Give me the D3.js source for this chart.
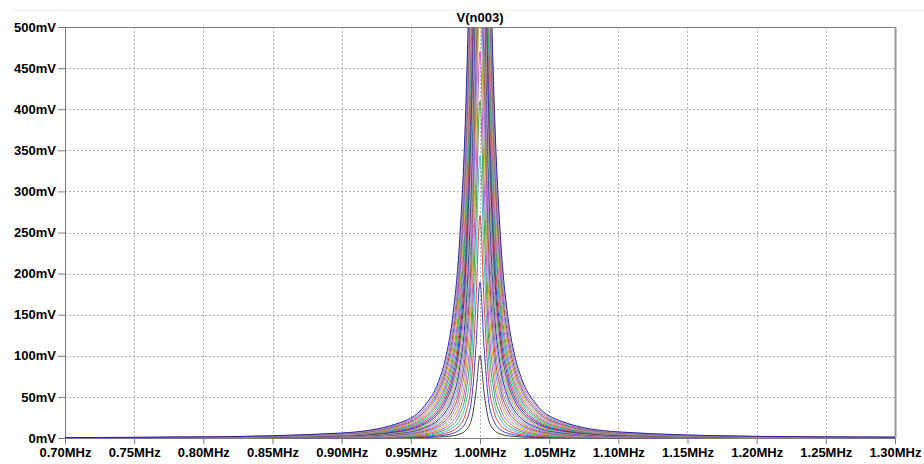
<!DOCTYPE html>
<html>
<head>
<meta charset="utf-8">
<script src="https://cdn.jsdelivr.net/npm/d3@7/dist/d3.min.js"></script>
<style>
body { margin: 0; background: #fff; }
svg { display: block; font-family: "Liberation Sans", Arial, sans-serif; }
.axis text { font-size: 13px; font-weight: bold; fill: #000; }
.axis path, .axis line { stroke: #7a7a7a; }
.grid line { stroke: #b0b0b0; stroke-dasharray: 2,2; }
</style>
</head>
<body>
<svg class="chart"></svg>
<script>
var width = 924;
var height = 464;
var margin = {top: 27, right: 29, bottom: 26, left: 65};
var w = width - margin.left - margin.right;
var h = height - margin.top - margin.bottom; // plot area of the LTspice pane

// frequency points (MHz) shared by every stepped run
var freqs = [0.70, 0.80, 0.90, 0.94, 0.96, 0.97, 0.975, 0.98, 0.985, 0.99, 0.994, 0.997, 1.000,
             1.003, 1.006, 1.01, 1.015, 1.02, 1.025, 1.03, 1.04, 1.06, 1.10, 1.20, 1.30];

// V(n003) in mV for each .step run (peaks above 500mV are clipped)
var steps = [
    [0.0, 0.0, 0.1, 0.3, 0.7, 1.2, 1.7, 2.6, 4.6, 9.8, 23.2, 54.8, 100.3, 55.0, 23.4, 9.9, 4.7, 2.7, 1.8, 1.2, 0.7, 0.3, 0.1, 0.0, 0.0],
    [0.0, 0.0, 0.2, 0.6, 1.4, 2.5, 3.5, 5.5, 9.6, 20.4, 47.7, 109.0, 190.0, 109.2, 48.1, 20.7, 9.9, 5.7, 3.7, 2.6, 1.5, 0.7, 0.3, 0.1, 0.0],
    [0.0, 0.1, 0.3, 0.9, 2.2, 3.9, 5.6, 8.6, 15.1, 31.8, 73.3, 162.0, 270.7, 162.4, 74.0, 32.4, 15.5, 9.0, 5.8, 4.1, 2.3, 1.1, 0.4, 0.1, 0.1],
    [0.0, 0.1, 0.5, 1.3, 3.0, 5.4, 7.8, 12.1, 21.0, 44.0, 99.9, 213.7, 343.7, 214.1, 100.7, 44.8, 21.6, 12.5, 8.2, 5.7, 3.3, 1.5, 0.6, 0.2, 0.1],
    [0.1, 0.1, 0.6, 1.7, 4.0, 7.1, 10.2, 15.7, 27.3, 56.9, 127.2, 263.8, 410.0, 264.4, 128.2, 57.9, 28.1, 16.3, 10.7, 7.5, 4.3, 2.0, 0.7, 0.2, 0.1],
    [0.1, 0.2, 0.8, 2.2, 5.0, 8.9, 12.7, 19.7, 34.0, 70.5, 155.1, 312.3, 470.6, 312.9, 156.3, 71.7, 35.0, 20.4, 13.3, 9.4, 5.4, 2.5, 0.9, 0.2, 0.1],
    [0.1, 0.2, 0.9, 2.6, 6.0, 10.8, 15.4, 23.9, 41.2, 84.7, 183.4, 359.0, 526.1, 359.6, 184.9, 86.1, 42.3, 24.8, 16.2, 11.4, 6.5, 3.0, 1.1, 0.3, 0.1],
    [0.1, 0.2, 1.1, 3.2, 7.2, 12.8, 18.3, 28.3, 48.7, 99.5, 212.1, 403.9, 577.2, 404.6, 213.7, 101.2, 50.0, 29.4, 19.2, 13.6, 7.8, 3.6, 1.3, 0.4, 0.2],
    [0.1, 0.3, 1.3, 3.7, 8.4, 14.9, 21.4, 33.0, 56.6, 114.8, 240.9, 447.0, 624.3, 447.8, 242.7, 116.7, 58.1, 34.2, 22.5, 15.8, 9.1, 4.2, 1.6, 0.4, 0.2],
    [0.1, 0.3, 1.5, 4.2, 9.7, 17.2, 24.6, 37.9, 64.8, 130.6, 269.8, 488.4, 667.9, 489.1, 271.8, 132.7, 66.6, 39.3, 25.8, 18.2, 10.5, 4.8, 1.8, 0.5, 0.2],
    [0.1, 0.4, 1.7, 4.8, 11.0, 19.6, 28.0, 43.0, 73.4, 146.8, 298.7, 527.9, 708.4, 528.7, 300.8, 149.1, 75.4, 44.7, 29.4, 20.8, 11.9, 5.5, 2.0, 0.6, 0.3],
    [0.2, 0.4, 1.9, 5.5, 12.5, 22.1, 31.6, 48.4, 82.3, 163.4, 327.5, 565.8, 746.1, 566.6, 329.7, 166.0, 84.5, 50.3, 33.1, 23.4, 13.5, 6.2, 2.3, 0.6, 0.3],
    [0.2, 0.5, 2.1, 6.1, 14.0, 24.7, 35.3, 54.0, 91.5, 180.3, 356.0, 602.1, 781.3, 602.9, 358.3, 183.2, 94.0, 56.1, 37.0, 26.2, 15.1, 6.9, 2.6, 0.7, 0.3],
    [0.2, 0.5, 2.4, 6.8, 15.5, 27.4, 39.1, 59.8, 101.1, 197.6, 384.3, 636.7, 814.2, 637.5, 386.8, 200.6, 103.8, 62.1, 41.0, 29.1, 16.8, 7.7, 2.9, 0.8, 0.4],
    [0.2, 0.6, 2.6, 7.5, 17.1, 30.3, 43.2, 65.9, 110.9, 215.1, 412.3, 669.8, 845.1, 670.7, 414.8, 218.4, 113.8, 68.3, 45.2, 32.1, 18.5, 8.5, 3.2, 0.9, 0.4],
    [0.2, 0.6, 2.9, 8.3, 18.8, 33.2, 47.3, 72.1, 121.0, 232.9, 439.9, 701.5, 874.1, 702.3, 442.5, 236.4, 124.1, 74.8, 49.6, 35.2, 20.4, 9.3, 3.5, 1.0, 0.5],
    [0.3, 0.7, 3.1, 9.1, 20.6, 36.3, 51.6, 78.5, 131.3, 250.8, 467.1, 731.8, 901.3, 732.6, 469.8, 254.5, 134.7, 81.4, 54.1, 38.5, 22.2, 10.2, 3.8, 1.0, 0.5],
    [0.3, 0.8, 3.4, 9.9, 22.4, 39.5, 56.1, 85.1, 141.9, 269.0, 493.8, 760.7, 927.1, 761.5, 496.6, 272.8, 145.5, 88.3, 58.8, 41.8, 24.2, 11.1, 4.2, 1.1, 0.5],
    [0.3, 0.8, 3.7, 10.7, 24.3, 42.8, 60.7, 92.0, 152.7, 287.2, 520.1, 788.4, 951.3, 789.2, 522.9, 291.2, 156.6, 95.3, 63.6, 45.3, 26.3, 12.1, 4.5, 1.2, 0.6],
    [0.3, 0.9, 4.0, 11.6, 26.2, 46.1, 65.4, 99.0, 163.7, 305.5, 545.9, 814.9, 974.3, 815.7, 548.8, 309.7, 167.9, 102.6, 68.5, 48.9, 28.4, 13.0, 4.9, 1.3, 0.6],
    [0.4, 1.0, 4.3, 12.5, 28.3, 49.6, 70.3, 106.1, 175.0, 323.9, 571.1, 840.3, 996.1, 841.0, 574.1, 328.3, 179.3, 110.0, 73.6, 52.5, 30.5, 14.1, 5.3, 1.4, 0.7],
    [0.4, 1.0, 4.7, 13.4, 30.3, 53.2, 75.3, 113.5, 186.4, 342.3, 595.9, 864.5, 1016.7, 865.3, 598.8, 346.9, 191.0, 117.6, 78.9, 56.3, 32.8, 15.1, 5.7, 1.5, 0.7],
    [0.4, 1.1, 5.0, 14.4, 32.5, 56.9, 80.4, 121.0, 198.0, 360.7, 620.0, 887.8, 1036.3, 888.5, 623.0, 365.5, 202.8, 125.3, 84.2, 60.2, 35.1, 16.2, 6.1, 1.7, 0.8],
    [0.5, 1.2, 5.3, 15.4, 34.7, 60.7, 85.7, 128.6, 209.7, 379.1, 643.7, 910.0, 1055.0, 910.8, 646.7, 384.1, 214.8, 133.2, 89.7, 64.2, 37.5, 17.3, 6.5, 1.8, 0.8],
    [0.5, 1.3, 5.7, 16.4, 36.9, 64.6, 91.1, 136.4, 221.6, 397.5, 666.7, 931.4, 1072.7, 932.1, 669.8, 402.6, 226.9, 141.3, 95.3, 68.4, 39.9, 18.4, 7.0, 1.9, 0.9],
    [0.5, 1.3, 6.1, 17.4, 39.3, 68.6, 96.6, 144.4, 233.6, 415.8, 689.3, 951.8, 1089.7, 952.6, 692.3, 421.1, 239.2, 149.5, 101.1, 72.6, 42.4, 19.6, 7.4, 2.0, 1.0]
];

// axis ticks
var xTicks = [0.70, 0.75, 0.80, 0.85, 0.90, 0.95, 1.00, 1.05, 1.10, 1.15, 1.20, 1.25, 1.30];
var yTicks = [0, 50, 100, 150, 200, 250, 300, 350, 400, 450, 500];

// trace colours, cycled over the steps
var traceColors = ["#404040", "#3a3ad6", "#d84040", "#3cbcbc", "#3f9f3f", "#cc55cc", "#c9b52c",
                   "#8585e6", "#a84444", "#8c8c8c", "#b58ae0", "#24249a", "#72c072", "#e07aa8"];

var svg = d3.select(".chart")
    .attr("width", width)
    .attr("height", height);

// faint pane border above the plot
svg.append("line")
    .attr("x1", 13).attr("x2", width)
    .attr("y1", 10.5).attr("y2", 10.5)
    .style("stroke", "#f0f0f0");

// title
svg.append("text")
    .attr("x", margin.left + w / 2)
    .attr("y", 22)
    .style("text-anchor", "middle")
    .style("font-size", "13px")
    .style("font-weight", "bold")
    .text("V(n003)");

var plot = svg.append("g")
    .attr("transform", "translate(" + margin.left + "," + margin.top + ")");

var x = d3.scaleLinear()
    .domain([0.70, 1.30])
    .range([0, w]);

var y = d3.scaleLinear()
    .domain([0, 500])
    .range([h, 0]);

// dotted grid
plot.append("g")
    .attr("class", "grid")
    .selectAll("line")
    .data(xTicks.slice(1, -1))
    .enter().append("line")
    .attr("x1", function(d) { return Math.round(x(d)) + 0.5; })
    .attr("x2", function(d) { return Math.round(x(d)) + 0.5; })
    .attr("y1", 0)
    .attr("y2", h);

plot.append("g")
    .attr("class", "grid")
    .selectAll("line")
    .data(yTicks.slice(1, -1))
    .enter().append("line")
    .attr("x1", 0)
    .attr("x2", w)
    .attr("y1", function(d) { return Math.round(y(d)) + 0.5; })
    .attr("y2", function(d) { return Math.round(y(d)) + 0.5; });

// axes
var xAxis = d3.axisBottom(x)
    .tickValues(xTicks)
    .tickSize(6)
    .tickSizeOuter(0)
    .tickPadding(4)
    .tickFormat(function(d) { return d.toFixed(2) + "MHz"; });

var yAxis = d3.axisLeft(y)
    .tickValues(yTicks)
    .tickSize(7)
    .tickSizeOuter(0)
    .tickPadding(2)
    .tickFormat(function(d) { return d + "mV"; });

plot.append("g")
    .attr("class", "axis")
    .attr("transform", "translate(0," + h + ")")
    .call(xAxis);

plot.append("g")
    .attr("class", "axis")
    .call(yAxis);

// top and right edges of the frame
plot.append("line")
    .attr("x1", 0).attr("x2", w)
    .attr("y1", 0.5).attr("y2", 0.5)
    .style("stroke", "#7a7a7a");

plot.append("line")
    .attr("x1", w + 0.5).attr("x2", w + 0.5)
    .attr("y1", 0).attr("y2", h)
    .style("stroke", "#9a9a9a")
    .style("stroke-width", 2);

// clip the traces to the plot area
plot.append("clipPath")
    .attr("id", "clip")
    .append("rect")
    .attr("x", 0)
    .attr("y", 0.5)
    .attr("width", w)
    .attr("height", h + 1);

var line = d3.line()
    .x(function(d) { return x(d[0]); })
    .y(function(d) { return y(d[1]); })
    .curve(d3.curveMonotoneX);

plot.append("g")
    .attr("clip-path", "url(#clip)")
    .selectAll("path")
    .data(steps)
    .enter().append("path")
    .attr("d", function(vals) {
        return line(vals.map(function(v, i) { return [freqs[i], v]; }));
    })
    .style("fill", "none")
    .style("stroke-width", 1)
    .style("stroke", function(d, i) { return traceColors[i % traceColors.length]; });
</script>
</body>
</html>
